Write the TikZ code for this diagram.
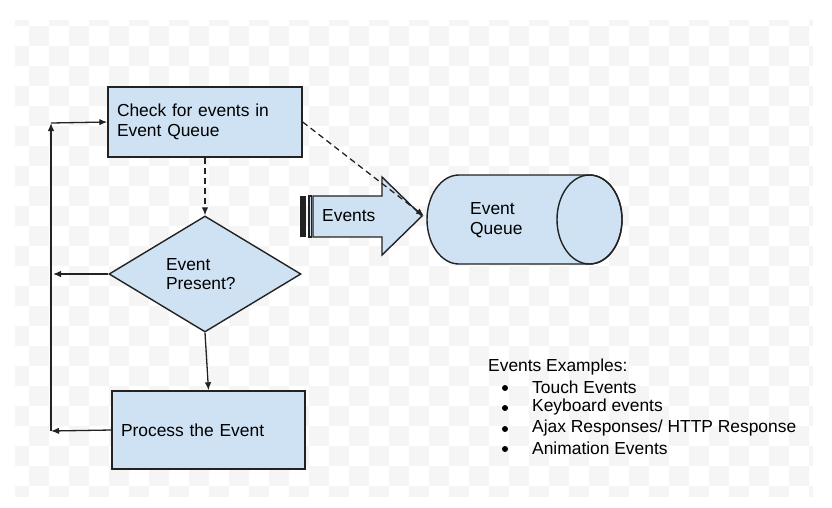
\documentclass[tikz,border=0pt]{standalone}
\usepackage{fontspec}
\setmainfont{Liberation Sans}
\usepackage{tikz}
\usetikzlibrary{arrows.meta, calc, shapes.geometric}

\definecolor{boxblue}{HTML}{CFE2F3}
\definecolor{checker}{HTML}{F5F5F5}
\definecolor{edge}{HTML}{222222}

\begin{document}
\begin{tikzpicture}[x=1pt, y=-1pt, >={Latex[length=8pt,width=6.5pt]},
	font=\fontsize{17.4}{19.5}\selectfont,
	shapefill/.style={draw=edge, line width=1.4pt, fill=boxblue},
	box/.style={shapefill, inner sep=0pt, align=left},
	link/.style={->, line width=1.3pt, draw=edge},
	dashlink/.style={link, dash pattern=on 6pt off 4pt}]
			
			% Canvas and checker background
			\useasboundingbox (0,0) rectangle (832,507);
			\begin{scope}
				\clip (15,20) rectangle (813,496);
				\foreach \i in {0,...,24}
					\foreach \j in {0,...,40} {
						\pgfmathtruncatemacro{\s}{\i+\j}
						\ifodd\s\else
							\fill[checker] (9+20*\j, 6+20*\i) rectangle ++(20,20);
						\fi
					}
			\end{scope}
			
			% Flowchart nodes
			\node[box, minimum width=194pt, minimum height=70pt, text width=176pt] (check) at (205,122) {Check for events in\\Event Queue};
			\node[box, diamond, aspect=1.6, minimum width=192pt, minimum height=116pt, text width=78pt] (present) at (205,274) {Event\\Present?};
			\node[box, minimum width=193pt, minimum height=78pt, text width=175pt] (process) at (208.5,430) {Process the Event};
			
			% Striped arrow with events
			\fill[edge] (300,196) rectangle (306,237);
			\draw[shapefill] (309,196) rectangle (311.5,237);
			\draw[shapefill, line join=miter] (313,196) -- (382,196) -- (382,177) -- (422,216) -- (382,255) -- (382,237) -- (313,237) -- cycle;
			\node[anchor=west, inner sep=0pt] (events) at (322,216) {Events};
			
			% Event queue cylinder
			\draw[shapefill] (459,175) -- (589.5,175) arc[start angle=-90, end angle=90, x radius=32.5, y radius=44.5] -- (459,264) arc[start angle=90, end angle=270, x radius=32, y radius=44.5] -- cycle;
			\draw[edge, line width=1.4pt] (589.5,219.5) ellipse [x radius=32.5, y radius=44.5];
			\node[anchor=west, align=left, inner sep=0pt] (queue) at (470,220) {Event\\Queue};
			\coordinate (qin) at (424,216);
			
			% Connectors
			\coordinate (noleft) at (53,274);
			\coordinate (loopbot) at (51,431);
			\coordinate (looptop) at (51,123);
			\draw[dashlink] (check.south) -- (present.north);
			\draw[dashlink] (check.east) -- (qin);
			\draw[link] (present.south) -- (process.north);
			\draw[link] (present.west) -- (noleft);
			\draw[link] (process.west) -- (loopbot);
			\draw[link] (loopbot) -- (looptop);
			\draw[link] (looptop) -- (check.west);
			
			% Examples list
			\node[anchor=west, inner sep=0pt] (extitle) at (488,367) {Events Examples:};
			\foreach \yy/\txt [count=\k] in {387/Touch Events, 407/Keyboard events, 428/{Ajax Responses/ HTTP Response}, 448/Animation Events} {
				\node[circle, fill=black, inner sep=0pt, minimum size=6pt] (bul\k) at (505,\yy+1) {};
				\node[anchor=west, inner sep=0pt] (item\k) at (532,\yy) {\txt};
			}
			
		\end{tikzpicture}
\end{document}
